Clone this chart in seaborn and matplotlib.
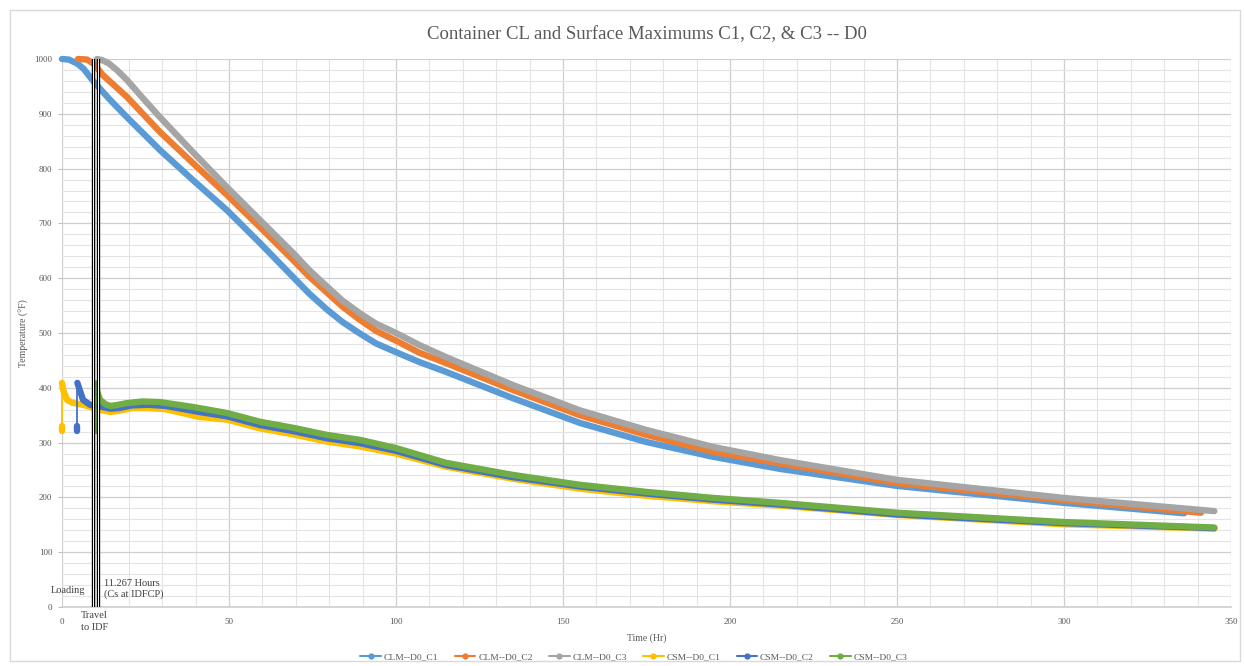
import matplotlib
matplotlib.use("Agg")
import matplotlib.pyplot as plt
from matplotlib.lines import Line2D
from matplotlib.patches import Rectangle
import seaborn as sns
import pandas as pd

# ---------------- data ----------------
clm_c1_x = [0, 2, 4.5, 6.5, 9.3, 14, 19.4, 29.3, 39.2, 49.4, 59.3, 69.2, 74, 79.3, 84, 89.2, 94, 100, 107, 115, 135, 155, 175, 195, 215, 250, 300, 336]
clm_c1_y = [1000, 999, 992, 982, 960, 928, 894, 834, 779, 724, 664, 602, 572, 543, 520, 499, 481, 465, 447, 429, 381, 336, 301, 274, 252, 221, 190, 171]

clm_c2_x = [4.8, 7.5, 9.8, 12, 19.4, 29.3, 39.2, 49.4, 59.3, 69.2, 74, 79.3, 84, 89.2, 94, 100, 107, 115, 135, 155, 175, 195, 215, 250, 300, 341]
clm_c2_y = [1000, 999, 990, 972, 931, 867, 810, 752, 693, 633, 603, 574, 548, 524, 504, 486, 464, 445, 396, 350, 314, 283, 262, 226, 195, 172]

clm_c3_x = [10.5, 12, 14, 16.4, 19.4, 24, 29.3, 39.2, 49.4, 59.3, 69.2, 74, 79.3, 84, 89.2, 94, 100, 107, 115, 135, 155, 175, 195, 215, 250, 300, 345]
clm_c3_y = [1000, 998, 992, 980, 962, 930, 894, 830, 766, 706, 646, 615, 585, 559, 536, 517, 500, 478, 456, 405, 359, 323, 292, 268, 232, 199, 175]

csm_c1_x = [0, 0, 0, 0.4, 1.5, 3, 6.3, 9, 11.4, 14.4, 17, 21, 26, 31, 41, 49.4, 59.3, 69.2, 79.3, 89.2, 100, 115, 135, 155, 175, 195, 215, 250, 300, 345]
csm_c1_y = [322, 331, 409, 395, 378, 373, 369, 364, 360, 356, 358, 363, 363, 361, 347, 342, 326, 315, 302, 293, 280, 256, 234, 216, 203, 193, 185, 168, 151, 143]

csm_c2_x = [4.6, 4.6, 4.6, 5.2, 6.3, 8.4, 11.4, 14.4, 17, 21, 26, 31, 41, 49.4, 59.3, 69.2, 79.3, 89.2, 100, 115, 135, 155, 175, 195, 215, 250, 300, 345]
csm_c2_y = [322, 331, 409, 398, 378, 369, 366, 362, 363, 368, 369, 367, 356, 348, 332, 321, 308, 299, 285, 259, 237, 220, 207, 196, 187, 169, 153, 144]

csm_c3_x = [10.1, 10.1, 10.1, 10.6, 11.4, 13, 14.4, 16, 19.4, 24, 29.3, 39.2, 49.4, 59.3, 69.2, 79.3, 89.2, 100, 115, 135, 155, 175, 195, 215, 250, 300, 345]
csm_c3_y = [322, 331, 408, 392, 378, 370, 367, 368, 372, 375, 374, 365, 354, 338, 327, 314, 305, 290, 263, 241, 223, 210, 199, 190, 172, 155, 145]

series_names = ["CLM--D0_C1", "CLM--D0_C2", "CLM--D0_C3", "CSM--D0_C1", "CSM--D0_C2", "CSM--D0_C3"]
series_colors = ["#5B9BD5", "#ED7D31", "#A5A5A5", "#FFC000", "#4472C4", "#70AD47"]

event_lines_x = [9.3, 10.8]

title = "Container CL and Surface Maximums C1, C2, & C3 -- D0"
x_label = "Time (Hr)"
y_label = "Temperature (°F)"
x_ticks = [0, 50, 100, 150, 200, 250, 300, 350]
y_ticks = [0, 100, 200, 300, 400, 500, 600, 700, 800, 900, 1000]

# ---------------- build frame ----------------
frames = []
all_x = [clm_c1_x, clm_c2_x, clm_c3_x, csm_c1_x, csm_c2_x, csm_c3_x]
all_y = [clm_c1_y, clm_c2_y, clm_c3_y, csm_c1_y, csm_c2_y, csm_c3_y]
for name, xs, ys in zip(series_names, all_x, all_y):
    frames.append(pd.DataFrame({"time": xs, "temp": ys, "series": name,
                                "idx": range(len(xs))}))
df = pd.concat(frames, ignore_index=True)

# ---------------- figure ----------------
sns.set_theme(style="white")
plt.rcParams["font.family"] = ["Liberation Serif", "DejaVu Serif"]

fig = plt.figure(figsize=(12.44, 6.66), dpi=100)
fig.patch.set_facecolor("white")
fig.add_artist(Rectangle((10 / 1244, 5 / 666), 1230 / 1244, 651 / 666,
                         transform=fig.transFigure, fill=False,
                         edgecolor="#D9D9D9", linewidth=1.0))
ax = fig.add_axes([62 / 1244, (666 - 607) / 666, 1169 / 1244, 548 / 666])

gray_txt = "#595959"

ax.set_xlim(0, 350)
ax.set_ylim(0, 1000)
ax.set_xticks(x_ticks)
ax.set_yticks(y_ticks)
ax.set_xticks(range(0, 351, 10), minor=True)
ax.set_yticks(range(0, 1001, 20), minor=True)
ax.grid(which="major", color="#CFCFCF", linewidth=0.9)
ax.grid(which="minor", color="#E4E4E4", linewidth=0.8)
ax.set_axisbelow(True)
for s in ["top", "right", "left"]:
    ax.spines[s].set_visible(False)
ax.spines["bottom"].set_color("#D0D0D0")
ax.tick_params(axis="both", which="major", labelsize=6.5, labelcolor=gray_txt,
               length=3, color="#BFBFBF", width=0.8, left=True, bottom=False, pad=4)
ax.tick_params(axis="x", which="major", pad=5)
ax.tick_params(which="minor", length=0)

lw_main = 4.6
for name, color in zip(series_names, series_colors):
    d = df[df["series"] == name]
    if name.startswith("CSM"):
        head = d[d["idx"] <= 1]
        link = d[(d["idx"] >= 1) & (d["idx"] <= 2)]
        body = d[d["idx"] >= 2]
        parts = [(head, lw_main), (link, 1.3), (body, lw_main)]
    else:
        parts = [(d, lw_main)]
    for part, lw in parts:
        sns.lineplot(data=part, x="time", y="temp", color=color, lw=lw,
                     sort=False, ax=ax, legend=False, estimator=None,
                     solid_capstyle="round", solid_joinstyle="round")
for ln in ax.get_lines():
    ln.set_clip_on(False)

for ex in event_lines_x:
    ax.axvline(ex, color="black", lw=2.4, zorder=5)
    ax.axvline(ex, color="white", lw=0.7, zorder=6)

ax.text(1.9, 31, "Loading", fontsize=7.5, color="#404040", ha="center", va="center")
ax.text(12.6, 33, "11.267 Hours\n(Cs at IDFCP)", fontsize=7.5, color="#404040",
        ha="left", va="center", linespacing=1.2)
ax.text(5.7, -7, "Travel\nto IDF", fontsize=7.5, color="#404040", ha="left",
        va="top", linespacing=1.5, clip_on=False)

ax.set_xlabel(x_label, fontsize=7, color=gray_txt, labelpad=5)
ax.set_ylabel(y_label, fontsize=7, color=gray_txt, labelpad=4)
ax.set_title(title, fontsize=13.5, color=gray_txt, pad=14)

handles = [Line2D([0], [0], color=c, lw=1.5, marker="o", markersize=3.5)
           for c in series_colors]
fig.legend(handles, series_names, loc="center", bbox_to_anchor=(634 / 1244, 1 - 657 / 666),
           ncol=6, frameon=False, fontsize=6.8, handlelength=2.2, columnspacing=1.7,
           labelcolor=gray_txt, handletextpad=0.3)

fig.savefig("out.png", dpi=100, facecolor="white")
